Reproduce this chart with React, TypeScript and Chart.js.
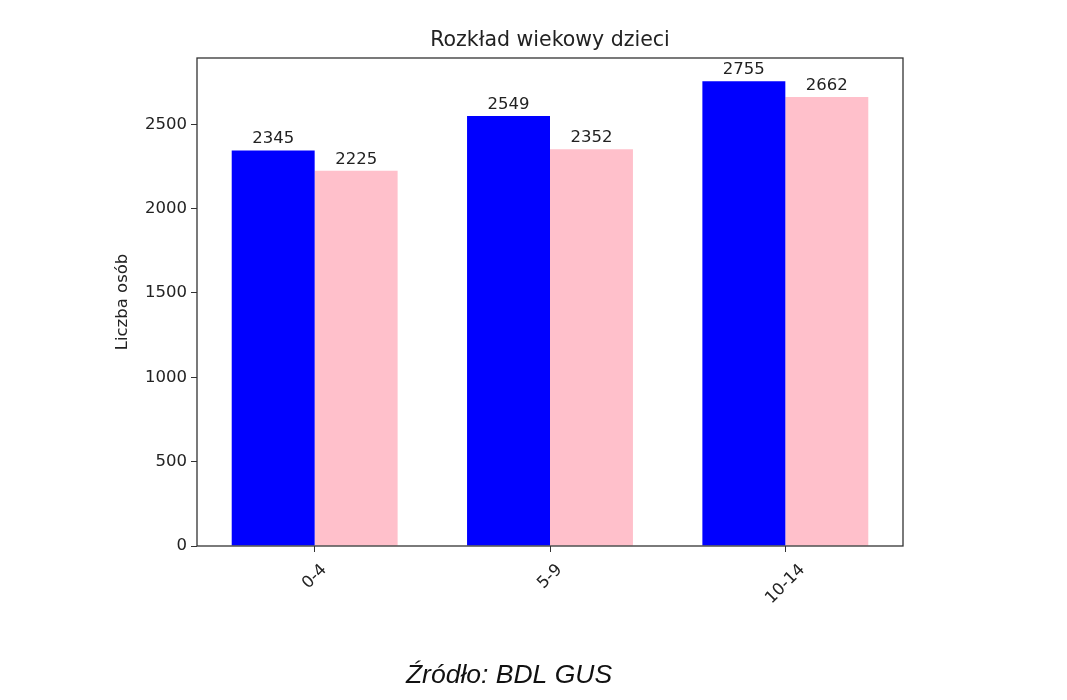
import React, { useEffect, useRef } from "react";
import { Chart, registerables } from "chart.js";

Chart.register(...registerables);

const categories = ["0-4", "5-9", "10-14"];
const seriesA = [2345, 2549, 2755];
const seriesB = [2225, 2352, 2662];
const yTicks = [0, 500, 1000, 1500, 2000, 2500];
const titleText = "Rozkład wiekowy dzieci";
const yLabelText = "Liczba osób";
const sourceText = "Źródło: BDL GUS";

const FONT = "'DejaVu Sans', sans-serif";
const TXT = "#222";

const overlay = {
  id: "overlay",
  afterDatasetsDraw(chart: any) {
    const ctx = chart.ctx;
    const area = chart.chartArea;
    ctx.save();
    // frame
    ctx.strokeStyle = "#333";
    ctx.lineWidth = 1.3;
    ctx.strokeRect(area.left, area.top, area.right - area.left, area.bottom - area.top);
    // value labels
    ctx.fillStyle = TXT;
    ctx.font = "16.5px " + FONT;
    ctx.textAlign = "center";
    ctx.textBaseline = "alphabetic";
    chart.data.datasets.forEach((ds: any, i: number) => {
      const meta = chart.getDatasetMeta(i);
      meta.data.forEach((el: any, j: number) => {
        ctx.fillText(String(ds.data[j]), el.x, el.y - 7);
      });
    });
    // x tick labels, rotated 45°, bbox centred on tick
    const xs = chart.scales.x;
    ctx.font = "16.5px " + FONT;
    ctx.textBaseline = "middle";
    const labels = chart.data.labels as string[];
    labels.forEach((lab: string, i: number) => {
      const x = xs.getPixelForValue(i);
      const w = ctx.measureText(lab).width;
      const h = 12;
      const bb = (w + h) * Math.SQRT1_2;
      ctx.save();
      ctx.translate(x, area.bottom + 17 + bb / 2);
      ctx.rotate(-Math.PI / 4);
      ctx.fillText(lab, 0, 0);
      ctx.restore();
    });
    // title
    ctx.textBaseline = "alphabetic";
    ctx.font = "20.5px " + FONT;
    ctx.fillText(titleText, (area.left + area.right) / 2, 46);
    // y label
    ctx.save();
    ctx.translate(123, (area.top + area.bottom) / 2);
    ctx.rotate(-Math.PI / 2);
    ctx.font = "16.5px " + FONT;
    ctx.textBaseline = "middle";
    ctx.fillText(yLabelText, 0, 0);
    ctx.restore();
    // source
    ctx.font = "italic 26.5px 'Liberation Sans', sans-serif";
    ctx.fillStyle = "#111";
    ctx.fillText(sourceText, 509, 683);
    ctx.restore();
  },
};

export default function App() {
  const ref = useRef<HTMLCanvasElement>(null);
  useEffect(() => {
    if (!ref.current) return;
    const chart = new Chart(ref.current, {
      type: "bar",
      data: {
        labels: categories,
        datasets: [
          {
            data: seriesA,
            backgroundColor: "#0000ff",
            categoryPercentage: 0.705,
            barPercentage: 1,
          },
          {
            data: seriesB,
            backgroundColor: "#ffc0cb",
            categoryPercentage: 0.705,
            barPercentage: 1,
          },
        ],
      },
      options: {
        responsive: false,
        animation: false,
        layout: { padding: { left: 0, top: 58, right: 164, bottom: 0 } },
        plugins: {
          legend: { display: false },
          title: { display: false },
          tooltip: { enabled: false },
        },
        scales: {
          x: {
            grid: {
              display: true,
              drawOnChartArea: false,
              drawTicks: true,
              tickLength: 6,
              offset: false,
              color: "#333",
            },
            border: { display: false },
            ticks: { display: false },
            afterFit(scale: any) {
              scale.height = 154;
            },
          },
          y: {
            min: 0,
            max: 2893,
            grid: {
              display: true,
              drawOnChartArea: false,
              drawTicks: true,
              tickLength: 6,
              color: "#333",
            },
            border: { display: false },
            ticks: {
              color: TXT,
              font: { family: FONT, size: 16.5 },
              padding: 4,
              stepSize: 500,
              includeBounds: false,
              callback: (v: any) => String(v),
            },
            afterBuildTicks(scale: any) {
              scale.ticks = yTicks.map((v) => ({ value: v }));
            },
            afterFit(scale: any) {
              scale.width = 197;
            },
          },
        },
      },
      plugins: [overlay],
    });
    return () => chart.destroy();
  }, []);
  return (
    <div style={{ position: "fixed", left: 0, top: 0, width: 1067, height: 700, background: "#fff" }}>
      <canvas ref={ref} width={1067} height={700} style={{ display: "block" }} />
    </div>
  );
}
